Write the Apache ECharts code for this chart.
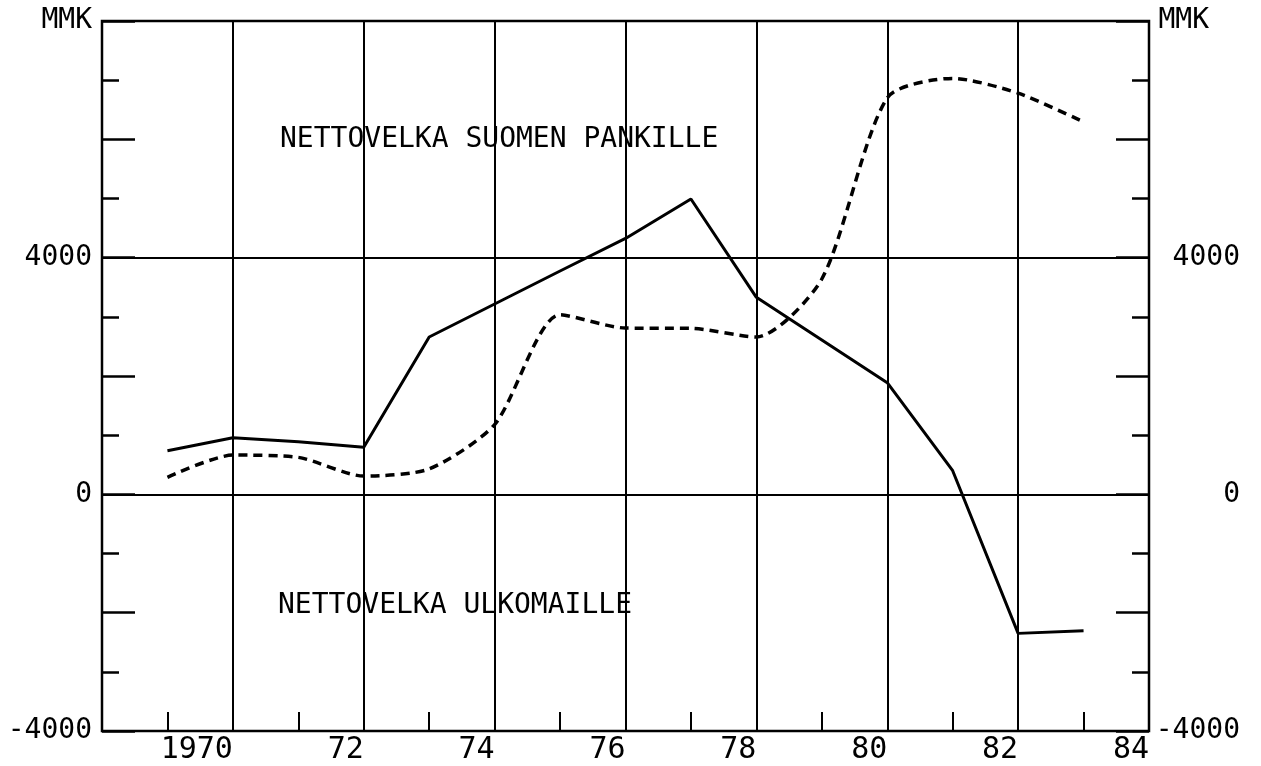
<!DOCTYPE html>
<html><head><meta charset="utf-8">
<script src="https://cdn.jsdelivr.net/npm/echarts@6/dist/echarts.min.js"></script>
<style>html,body{margin:0;padding:0;background:#fff}#c{width:1261px;height:766px}</style>
</head><body><div id="c"></div>
<script>
// ---- data ----
const years = [1969,1970,1971,1972,1973,1974,1975,1976,1977,1978,1979,1980,1981,1982,1983];
const nettovelkaUlkomaille = [737,957,889,795,2659,3217,3775,4325,4992,3330,2610,1887,399,-2350,-2306];
const nettovelkaSuomenPankille = [287,664,625,309,430,1180,3035,2810,2806,2660,3640,6700,7030,6780,6294];
const xTickYears = [1970,1972,1974,1976,1978,1980,1982,1984];
const xTickTexts = ['1970','72','74','76','78','80','82','84'];
const yTickValues = [8000,4000,0,-4000];
const yTickTexts = ['MMK','4000','0','-4000'];
const annotationTexts = ['NETTOVELKA SUOMEN PANKILLE','NETTOVELKA ULKOMAILLE'];

const FONT = '"DejaVu Sans Mono", monospace';
const BLACK = '#000';

function yLabel(v, right) {
  const i = yTickValues.indexOf(v);
  if (i < 0) return '';
  if (right && v === 8000) return '{u|' + yTickTexts[i] + '}';
  return yTickTexts[i];
}

function yAxisCfg(position) {
  const right = position === 'right';
  return {
    type: 'value', position: position, min: -4000, max: 8000, interval: 2000,
    axisLine: {show: false, onZero: false},
    axisTick: {show: true, inside: true, length: 33, lineStyle: {color: BLACK, width: 2.5}},
    minorTick: {show: true, splitNumber: 2, length: 17, lineStyle: {color: BLACK, width: 2.5}},
    splitLine: {show: false},
    axisLabel: {
      formatter: v => yLabel(v, right),
      color: BLACK, fontFamily: FONT, fontSize: 28,
      align: 'right', margin: right ? 91 : 10,
      showMinLabel: true, showMaxLabel: true,
      rich: {u: {fontFamily: FONT, fontSize: 28, color: BLACK, padding: [0, 31, 0, 0]}}
    }
  };
}

const chart = echarts.init(document.getElementById('c'), null, {renderer: 'canvas'});
chart.setOption({
  backgroundColor: '#fff',
  animation: false,
  grid: {left: 102, right: 112, top: 21, bottom: 35, show: true, borderColor: BLACK, borderWidth: 2.5, backgroundColor: 'transparent', outerBoundsMode: 'none'},
  xAxis: {
    type: 'value', min: 1968, max: 1984, interval: 2,
    axisLine: {show: false, onZero: false},
    axisTick: {show: true, inside: true, length: 19, lineStyle: {color: BLACK, width: 2}},
    minorTick: {show: true, splitNumber: 2, length: 19, lineStyle: {color: BLACK, width: 2}},
    splitLine: {show: true, lineStyle: {color: BLACK, width: 2}},
    axisLabel: {
      formatter: v => { const i = xTickYears.indexOf(Math.round(v)); return i < 0 ? '' : xTickTexts[i]; },
      color: BLACK, fontFamily: FONT, fontSize: 30, align: 'right', margin: 4,
      showMinLabel: true, showMaxLabel: true
    }
  },
  yAxis: [
    yAxisCfg('left'),
    yAxisCfg('right'),
    {
      type: 'value', position: 'left', min: -4000, max: 8000, interval: 4000,
      axisLine: {show: false, onZero: false}, axisTick: {show: false}, axisLabel: {show: false},
      splitLine: {show: true, lineStyle: {color: BLACK, width: 2}}
    }
  ],
  graphic: [
    {type: 'text', left: 280, top: 126, silent: true,
     style: {text: annotationTexts[0], font: '28px ' + FONT, fill: BLACK}},
    {type: 'text', left: 278, top: 592, silent: true,
     style: {text: annotationTexts[1], font: '28px ' + FONT, fill: BLACK}}
  ],
  series: [
    {
      name: annotationTexts[1], type: 'line', yAxisIndex: 0,
      data: years.map((y, i) => [y, nettovelkaUlkomaille[i]]),
      showSymbol: false, symbol: 'none',
      lineStyle: {color: BLACK, width: 3, type: 'solid'}
    },
    {
      name: annotationTexts[0], type: 'line', yAxisIndex: 0,
      data: years.map((y, i) => [y, nettovelkaSuomenPankille[i]]),
      showSymbol: false, symbol: 'none', smooth: 0.25,
      lineStyle: {color: BLACK, width: 3.5, type: [9, 6]}
    }
  ]
});
</script>
</body></html>
